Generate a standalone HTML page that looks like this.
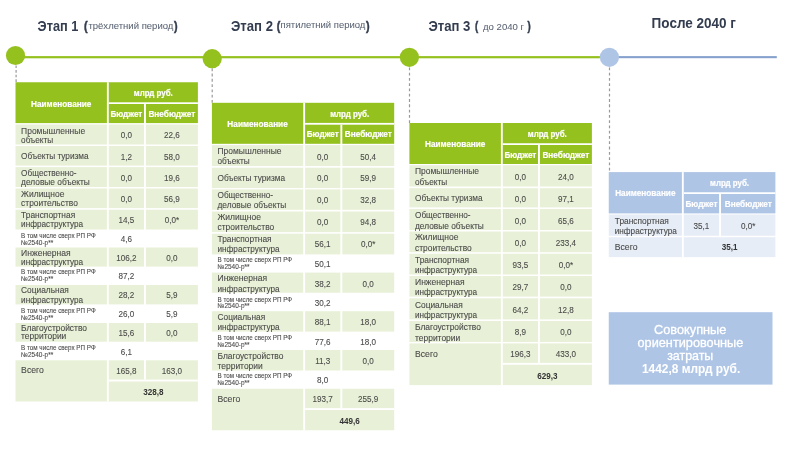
<!DOCTYPE html>
<html lang="ru">
<head>
<meta charset="utf-8">
<title>Этапы</title>
<style>
html,body{margin:0;padding:0;background:#fff;}
body{width:800px;height:452px;overflow:hidden;}
svg{display:block;font-family:'Liberation Sans', sans-serif;}
</style>
</head>
<body>
<svg width="800" height="452" viewBox="0 0 800 452">
<rect x="0" y="0" width="800" height="452" fill="#fff"/>
<rect x="15.50" y="56.10" width="593.50" height="2.20" fill="#95c11f"/>
<rect x="609.00" y="56.10" width="167.80" height="2.10" fill="#86a1cd"/>
<line x1="16.1" y1="65.4" x2="16.1" y2="82.4" stroke="#999999" stroke-width="1.2" stroke-dasharray="2.6 2.05"/>
<line x1="212.2" y1="68.3" x2="212.2" y2="102.8" stroke="#999999" stroke-width="1.2" stroke-dasharray="2.85 2.43"/>
<line x1="409.5" y1="67.4" x2="409.5" y2="123.0" stroke="#999999" stroke-width="1.2" stroke-dasharray="2.8 2.48"/>
<line x1="609.5" y1="67.4" x2="609.5" y2="172.2" stroke="#999999" stroke-width="1.2" stroke-dasharray="2.8 2.48"/>
<circle cx="15.5" cy="55.5" r="9.6" fill="#95c11f"/>
<circle cx="212.2" cy="58.7" r="9.6" fill="#95c11f"/>
<circle cx="409.4" cy="57.3" r="9.6" fill="#95c11f"/>
<circle cx="609.4" cy="57.3" r="9.6" fill="#afc5e6"/>
<text x="37.60" y="31.00" font-size="13.8" fill="#333d4f" font-weight="bold" textLength="40.80" lengthAdjust="spacingAndGlyphs">Этап 1</text>
<text x="84.00" y="30.20" font-size="13.5" fill="#333d4f" font-weight="bold" textLength="3.60" lengthAdjust="spacingAndGlyphs" stroke="#333d4f" stroke-width="0.5">(</text>
<text x="88.40" y="29.40" font-size="9.3" fill="#5a6474" textLength="85.00" lengthAdjust="spacingAndGlyphs" stroke="#5a6474" stroke-width="0.05">трёхлетний период</text>
<text x="174.00" y="30.20" font-size="13.5" fill="#333d4f" font-weight="bold" textLength="3.60" lengthAdjust="spacingAndGlyphs" stroke="#333d4f" stroke-width="0.5">)</text>
<text x="231.00" y="30.60" font-size="13.8" fill="#333d4f" font-weight="bold" textLength="42.00" lengthAdjust="spacingAndGlyphs">Этап 2</text>
<text x="276.80" y="29.80" font-size="13.5" fill="#333d4f" font-weight="bold" textLength="3.60" lengthAdjust="spacingAndGlyphs" stroke="#333d4f" stroke-width="0.5">(</text>
<text x="280.60" y="28.00" font-size="9.3" fill="#5a6474" textLength="84.80" lengthAdjust="spacingAndGlyphs" stroke="#5a6474" stroke-width="0.05">пятилетний период</text>
<text x="366.00" y="29.80" font-size="13.5" fill="#333d4f" font-weight="bold" textLength="3.60" lengthAdjust="spacingAndGlyphs" stroke="#333d4f" stroke-width="0.5">)</text>
<text x="428.40" y="30.60" font-size="13.8" fill="#333d4f" font-weight="bold" textLength="42.00" lengthAdjust="spacingAndGlyphs">Этап 3</text>
<text x="475.00" y="29.80" font-size="13.5" fill="#333d4f" font-weight="bold" textLength="3.20" lengthAdjust="spacingAndGlyphs" stroke="#333d4f" stroke-width="0.5">(</text>
<text x="483.00" y="30.00" font-size="9.0" fill="#5a6474" textLength="41.00" lengthAdjust="spacingAndGlyphs" stroke="#5a6474" stroke-width="0.05">до 2040 г</text>
<text x="527.60" y="29.80" font-size="13.5" fill="#333d4f" font-weight="bold" textLength="3.20" lengthAdjust="spacingAndGlyphs" stroke="#333d4f" stroke-width="0.5">)</text>
<text x="651.60" y="28.00" font-size="13.8" fill="#333d4f" font-weight="bold" textLength="84.40" lengthAdjust="spacingAndGlyphs">После 2040 г</text>
<rect x="15.50" y="82.25" width="182.40" height="40.85" fill="#95c11f"/>
<rect x="108.75" y="102.30" width="89.15" height="1.70" fill="#fff"/>
<text x="61.20" y="107.00" font-size="8.6" fill="#fff" font-weight="bold" text-anchor="middle" textLength="60.40" lengthAdjust="spacingAndGlyphs" stroke="#fff" stroke-width="0.2">Наименование</text>
<text x="153.32" y="96.08" font-size="8.6" fill="#fff" font-weight="bold" text-anchor="middle" textLength="39.00" lengthAdjust="spacingAndGlyphs" stroke="#fff" stroke-width="0.2">млрд руб.</text>
<text x="126.38" y="116.55" font-size="8.6" fill="#fff" font-weight="bold" text-anchor="middle" textLength="32.00" lengthAdjust="spacingAndGlyphs" stroke="#fff" stroke-width="0.2">Бюджет</text>
<text x="171.90" y="116.55" font-size="8.6" fill="#fff" font-weight="bold" text-anchor="middle" textLength="47.00" lengthAdjust="spacingAndGlyphs" stroke="#fff" stroke-width="0.2">Внебюджет</text>
<rect x="15.50" y="124.50" width="182.40" height="20.00" fill="#e8f1d7"/>
<text x="21.10" y="134.10" font-size="8.9" fill="#4b4b4a" textLength="64.00" lengthAdjust="spacingAndGlyphs" stroke="#4b4b4a" stroke-width="0.1">Промышленные</text>
<text x="21.10" y="142.60" font-size="8.9" fill="#4b4b4a" textLength="32.10" lengthAdjust="spacingAndGlyphs" stroke="#4b4b4a" stroke-width="0.1">объекты</text>
<text x="126.38" y="137.90" font-size="8.8" fill="#4b4b4a" text-anchor="middle" textLength="11.26" lengthAdjust="spacingAndGlyphs" stroke="#4b4b4a" stroke-width="0.1">0,0</text>
<text x="171.90" y="137.90" font-size="8.8" fill="#4b4b4a" text-anchor="middle" textLength="15.76" lengthAdjust="spacingAndGlyphs" stroke="#4b4b4a" stroke-width="0.1">22,6</text>
<rect x="15.50" y="146.00" width="182.40" height="19.60" fill="#e8f1d7"/>
<text x="21.10" y="159.10" font-size="8.9" fill="#4b4b4a" textLength="67.50" lengthAdjust="spacingAndGlyphs" stroke="#4b4b4a" stroke-width="0.1">Объекты туризма</text>
<text x="126.38" y="159.50" font-size="8.8" fill="#4b4b4a" text-anchor="middle" textLength="11.26" lengthAdjust="spacingAndGlyphs" stroke="#4b4b4a" stroke-width="0.1">1,2</text>
<text x="171.90" y="159.50" font-size="8.8" fill="#4b4b4a" text-anchor="middle" textLength="15.76" lengthAdjust="spacingAndGlyphs" stroke="#4b4b4a" stroke-width="0.1">58,0</text>
<rect x="15.50" y="167.10" width="182.40" height="19.90" fill="#e8f1d7"/>
<text x="21.10" y="175.60" font-size="8.9" fill="#4b4b4a" textLength="55.50" lengthAdjust="spacingAndGlyphs" stroke="#4b4b4a" stroke-width="0.1">Общественно-</text>
<text x="21.10" y="185.00" font-size="8.9" fill="#4b4b4a" textLength="68.75" lengthAdjust="spacingAndGlyphs" stroke="#4b4b4a" stroke-width="0.1">деловые объекты</text>
<text x="126.38" y="180.60" font-size="8.8" fill="#4b4b4a" text-anchor="middle" textLength="11.26" lengthAdjust="spacingAndGlyphs" stroke="#4b4b4a" stroke-width="0.1">0,0</text>
<text x="171.90" y="180.60" font-size="8.8" fill="#4b4b4a" text-anchor="middle" textLength="15.76" lengthAdjust="spacingAndGlyphs" stroke="#4b4b4a" stroke-width="0.1">19,6</text>
<rect x="15.50" y="188.50" width="182.40" height="19.60" fill="#e8f1d7"/>
<text x="21.10" y="197.25" font-size="8.9" fill="#4b4b4a" textLength="43.40" lengthAdjust="spacingAndGlyphs" stroke="#4b4b4a" stroke-width="0.1">Жилищное</text>
<text x="21.10" y="205.60" font-size="8.9" fill="#4b4b4a" textLength="56.75" lengthAdjust="spacingAndGlyphs" stroke="#4b4b4a" stroke-width="0.1">строительство</text>
<text x="126.38" y="201.50" font-size="8.8" fill="#4b4b4a" text-anchor="middle" textLength="11.26" lengthAdjust="spacingAndGlyphs" stroke="#4b4b4a" stroke-width="0.1">0,0</text>
<text x="171.90" y="201.50" font-size="8.8" fill="#4b4b4a" text-anchor="middle" textLength="15.76" lengthAdjust="spacingAndGlyphs" stroke="#4b4b4a" stroke-width="0.1">56,9</text>
<rect x="15.50" y="209.70" width="182.40" height="19.80" fill="#e8f1d7"/>
<text x="21.10" y="218.40" font-size="8.9" fill="#4b4b4a" textLength="54.10" lengthAdjust="spacingAndGlyphs" stroke="#4b4b4a" stroke-width="0.1">Транспортная</text>
<text x="21.10" y="227.10" font-size="8.9" fill="#4b4b4a" textLength="62.10" lengthAdjust="spacingAndGlyphs" stroke="#4b4b4a" stroke-width="0.1">инфраструктура</text>
<text x="126.38" y="223.00" font-size="8.8" fill="#4b4b4a" text-anchor="middle" textLength="15.76" lengthAdjust="spacingAndGlyphs" stroke="#4b4b4a" stroke-width="0.1">14,5</text>
<text x="171.90" y="223.00" font-size="8.8" fill="#4b4b4a" text-anchor="middle" textLength="14.41" lengthAdjust="spacingAndGlyphs" stroke="#4b4b4a" stroke-width="0.1">0,0*</text>
<text x="21.10" y="237.75" font-size="6.9" fill="#4b4b4a" textLength="74.60" lengthAdjust="spacingAndGlyphs" stroke="#4b4b4a" stroke-width="0.1">В том числе сверх РП РФ</text>
<text x="21.10" y="244.60" font-size="6.9" fill="#4b4b4a" textLength="32.10" lengthAdjust="spacingAndGlyphs" stroke="#4b4b4a" stroke-width="0.1">№2540-р**</text>
<text x="126.38" y="241.75" font-size="8.8" fill="#4b4b4a" text-anchor="middle" textLength="11.26" lengthAdjust="spacingAndGlyphs" stroke="#4b4b4a" stroke-width="0.1">4,6</text>
<rect x="15.50" y="247.50" width="182.40" height="19.10" fill="#e8f1d7"/>
<text x="21.10" y="255.90" font-size="8.9" fill="#4b4b4a" textLength="49.60" lengthAdjust="spacingAndGlyphs" stroke="#4b4b4a" stroke-width="0.1">Инженерная</text>
<text x="21.10" y="264.60" font-size="8.9" fill="#4b4b4a" textLength="62.10" lengthAdjust="spacingAndGlyphs" stroke="#4b4b4a" stroke-width="0.1">инфраструктура</text>
<text x="126.38" y="260.75" font-size="8.8" fill="#4b4b4a" text-anchor="middle" textLength="20.27" lengthAdjust="spacingAndGlyphs" stroke="#4b4b4a" stroke-width="0.1">106,2</text>
<text x="171.90" y="260.75" font-size="8.8" fill="#4b4b4a" text-anchor="middle" textLength="11.26" lengthAdjust="spacingAndGlyphs" stroke="#4b4b4a" stroke-width="0.1">0,0</text>
<text x="21.10" y="274.40" font-size="6.9" fill="#4b4b4a" textLength="74.60" lengthAdjust="spacingAndGlyphs" stroke="#4b4b4a" stroke-width="0.1">В том числе сверх РП РФ</text>
<text x="21.10" y="281.25" font-size="6.9" fill="#4b4b4a" textLength="32.10" lengthAdjust="spacingAndGlyphs" stroke="#4b4b4a" stroke-width="0.1">№2540-р**</text>
<text x="126.38" y="279.30" font-size="8.8" fill="#4b4b4a" text-anchor="middle" textLength="15.76" lengthAdjust="spacingAndGlyphs" stroke="#4b4b4a" stroke-width="0.1">87,2</text>
<rect x="15.50" y="285.00" width="182.40" height="19.40" fill="#e8f1d7"/>
<text x="21.10" y="293.40" font-size="8.9" fill="#4b4b4a" textLength="47.75" lengthAdjust="spacingAndGlyphs" stroke="#4b4b4a" stroke-width="0.1">Социальная</text>
<text x="21.10" y="302.50" font-size="8.9" fill="#4b4b4a" textLength="62.10" lengthAdjust="spacingAndGlyphs" stroke="#4b4b4a" stroke-width="0.1">инфраструктура</text>
<text x="126.38" y="298.10" font-size="8.8" fill="#4b4b4a" text-anchor="middle" textLength="15.76" lengthAdjust="spacingAndGlyphs" stroke="#4b4b4a" stroke-width="0.1">28,2</text>
<text x="171.90" y="298.10" font-size="8.8" fill="#4b4b4a" text-anchor="middle" textLength="11.26" lengthAdjust="spacingAndGlyphs" stroke="#4b4b4a" stroke-width="0.1">5,9</text>
<text x="21.10" y="312.90" font-size="6.9" fill="#4b4b4a" textLength="74.60" lengthAdjust="spacingAndGlyphs" stroke="#4b4b4a" stroke-width="0.1">В том числе сверх РП РФ</text>
<text x="21.10" y="319.75" font-size="6.9" fill="#4b4b4a" textLength="32.10" lengthAdjust="spacingAndGlyphs" stroke="#4b4b4a" stroke-width="0.1">№2540-р**</text>
<text x="126.38" y="316.90" font-size="8.8" fill="#4b4b4a" text-anchor="middle" textLength="15.76" lengthAdjust="spacingAndGlyphs" stroke="#4b4b4a" stroke-width="0.1">26,0</text>
<text x="171.90" y="316.90" font-size="8.8" fill="#4b4b4a" text-anchor="middle" textLength="11.26" lengthAdjust="spacingAndGlyphs" stroke="#4b4b4a" stroke-width="0.1">5,9</text>
<rect x="15.50" y="323.00" width="182.40" height="18.70" fill="#e8f1d7"/>
<text x="21.10" y="331.25" font-size="8.9" fill="#4b4b4a" textLength="65.90" lengthAdjust="spacingAndGlyphs" stroke="#4b4b4a" stroke-width="0.1">Благоустройство</text>
<text x="21.10" y="339.40" font-size="8.9" fill="#4b4b4a" textLength="45.25" lengthAdjust="spacingAndGlyphs" stroke="#4b4b4a" stroke-width="0.1">территории</text>
<text x="126.38" y="335.90" font-size="8.8" fill="#4b4b4a" text-anchor="middle" textLength="15.76" lengthAdjust="spacingAndGlyphs" stroke="#4b4b4a" stroke-width="0.1">15,6</text>
<text x="171.90" y="335.90" font-size="8.8" fill="#4b4b4a" text-anchor="middle" textLength="11.26" lengthAdjust="spacingAndGlyphs" stroke="#4b4b4a" stroke-width="0.1">0,0</text>
<text x="21.10" y="350.00" font-size="6.9" fill="#4b4b4a" textLength="74.60" lengthAdjust="spacingAndGlyphs" stroke="#4b4b4a" stroke-width="0.1">В том числе сверх РП РФ</text>
<text x="21.10" y="357.00" font-size="6.9" fill="#4b4b4a" textLength="32.10" lengthAdjust="spacingAndGlyphs" stroke="#4b4b4a" stroke-width="0.1">№2540-р**</text>
<text x="126.38" y="354.60" font-size="8.8" fill="#4b4b4a" text-anchor="middle" textLength="11.26" lengthAdjust="spacingAndGlyphs" stroke="#4b4b4a" stroke-width="0.1">6,1</text>
<rect x="15.50" y="360.30" width="182.40" height="41.20" fill="#e8f1d7"/>
<text x="21.10" y="373.25" font-size="8.9" fill="#4b4b4a" textLength="22.75" lengthAdjust="spacingAndGlyphs" stroke="#4b4b4a" stroke-width="0.1">Всего</text>
<rect x="108.75" y="379.60" width="89.15" height="1.90" fill="#fff"/>
<text x="126.38" y="373.50" font-size="8.8" fill="#4b4b4a" text-anchor="middle" textLength="20.27" lengthAdjust="spacingAndGlyphs" stroke="#4b4b4a" stroke-width="0.1">165,8</text>
<text x="171.90" y="373.50" font-size="8.8" fill="#4b4b4a" text-anchor="middle" textLength="20.27" lengthAdjust="spacingAndGlyphs" stroke="#4b4b4a" stroke-width="0.1">163,0</text>
<text x="153.32" y="394.80" font-size="8.8" fill="#333333" font-weight="bold" text-anchor="middle" textLength="20.27" lengthAdjust="spacingAndGlyphs">328,8</text>
<rect x="106.90" y="82.25" width="1.85" height="319.25" fill="#fff"/>
<rect x="144.00" y="104.00" width="1.90" height="275.60" fill="#fff"/>
<rect x="211.90" y="102.80" width="182.30" height="41.00" fill="#95c11f"/>
<rect x="305.10" y="122.90" width="89.10" height="1.80" fill="#fff"/>
<text x="257.57" y="127.00" font-size="8.6" fill="#fff" font-weight="bold" text-anchor="middle" textLength="60.40" lengthAdjust="spacingAndGlyphs" stroke="#fff" stroke-width="0.2">Наименование</text>
<text x="349.65" y="116.65" font-size="8.6" fill="#fff" font-weight="bold" text-anchor="middle" textLength="39.00" lengthAdjust="spacingAndGlyphs" stroke="#fff" stroke-width="0.2">млрд руб.</text>
<text x="322.75" y="137.25" font-size="8.6" fill="#fff" font-weight="bold" text-anchor="middle" textLength="32.00" lengthAdjust="spacingAndGlyphs" stroke="#fff" stroke-width="0.2">Бюджет</text>
<text x="368.25" y="137.25" font-size="8.6" fill="#fff" font-weight="bold" text-anchor="middle" textLength="47.00" lengthAdjust="spacingAndGlyphs" stroke="#fff" stroke-width="0.2">Внебюджет</text>
<rect x="211.90" y="145.10" width="182.30" height="20.90" fill="#e8f1d7"/>
<text x="217.50" y="153.75" font-size="8.9" fill="#4b4b4a" textLength="64.00" lengthAdjust="spacingAndGlyphs" stroke="#4b4b4a" stroke-width="0.1">Промышленные</text>
<text x="217.50" y="164.40" font-size="8.9" fill="#4b4b4a" textLength="32.10" lengthAdjust="spacingAndGlyphs" stroke="#4b4b4a" stroke-width="0.1">объекты</text>
<text x="322.75" y="159.75" font-size="8.8" fill="#4b4b4a" text-anchor="middle" textLength="11.26" lengthAdjust="spacingAndGlyphs" stroke="#4b4b4a" stroke-width="0.1">0,0</text>
<text x="368.25" y="159.75" font-size="8.8" fill="#4b4b4a" text-anchor="middle" textLength="15.76" lengthAdjust="spacingAndGlyphs" stroke="#4b4b4a" stroke-width="0.1">50,4</text>
<rect x="211.90" y="167.70" width="182.30" height="20.40" fill="#e8f1d7"/>
<text x="217.50" y="181.00" font-size="8.9" fill="#4b4b4a" textLength="67.50" lengthAdjust="spacingAndGlyphs" stroke="#4b4b4a" stroke-width="0.1">Объекты туризма</text>
<text x="322.75" y="181.25" font-size="8.8" fill="#4b4b4a" text-anchor="middle" textLength="11.26" lengthAdjust="spacingAndGlyphs" stroke="#4b4b4a" stroke-width="0.1">0,0</text>
<text x="368.25" y="181.25" font-size="8.8" fill="#4b4b4a" text-anchor="middle" textLength="15.76" lengthAdjust="spacingAndGlyphs" stroke="#4b4b4a" stroke-width="0.1">59,9</text>
<rect x="211.90" y="189.40" width="182.30" height="20.40" fill="#e8f1d7"/>
<text x="217.50" y="197.75" font-size="8.9" fill="#4b4b4a" textLength="55.50" lengthAdjust="spacingAndGlyphs" stroke="#4b4b4a" stroke-width="0.1">Общественно-</text>
<text x="217.50" y="208.00" font-size="8.9" fill="#4b4b4a" textLength="68.75" lengthAdjust="spacingAndGlyphs" stroke="#4b4b4a" stroke-width="0.1">деловые объекты</text>
<text x="322.75" y="202.75" font-size="8.8" fill="#4b4b4a" text-anchor="middle" textLength="11.26" lengthAdjust="spacingAndGlyphs" stroke="#4b4b4a" stroke-width="0.1">0,0</text>
<text x="368.25" y="202.75" font-size="8.8" fill="#4b4b4a" text-anchor="middle" textLength="15.76" lengthAdjust="spacingAndGlyphs" stroke="#4b4b4a" stroke-width="0.1">32,8</text>
<rect x="211.90" y="211.50" width="182.30" height="20.60" fill="#e8f1d7"/>
<text x="217.50" y="220.25" font-size="8.9" fill="#4b4b4a" textLength="43.40" lengthAdjust="spacingAndGlyphs" stroke="#4b4b4a" stroke-width="0.1">Жилищное</text>
<text x="217.50" y="230.25" font-size="8.9" fill="#4b4b4a" textLength="56.75" lengthAdjust="spacingAndGlyphs" stroke="#4b4b4a" stroke-width="0.1">строительство</text>
<text x="322.75" y="225.25" font-size="8.8" fill="#4b4b4a" text-anchor="middle" textLength="11.26" lengthAdjust="spacingAndGlyphs" stroke="#4b4b4a" stroke-width="0.1">0,0</text>
<text x="368.25" y="225.25" font-size="8.8" fill="#4b4b4a" text-anchor="middle" textLength="15.76" lengthAdjust="spacingAndGlyphs" stroke="#4b4b4a" stroke-width="0.1">94,8</text>
<rect x="211.90" y="233.70" width="182.30" height="20.70" fill="#e8f1d7"/>
<text x="217.50" y="242.40" font-size="8.9" fill="#4b4b4a" textLength="54.10" lengthAdjust="spacingAndGlyphs" stroke="#4b4b4a" stroke-width="0.1">Транспортная</text>
<text x="217.50" y="252.00" font-size="8.9" fill="#4b4b4a" textLength="62.10" lengthAdjust="spacingAndGlyphs" stroke="#4b4b4a" stroke-width="0.1">инфраструктура</text>
<text x="322.75" y="247.40" font-size="8.8" fill="#4b4b4a" text-anchor="middle" textLength="15.76" lengthAdjust="spacingAndGlyphs" stroke="#4b4b4a" stroke-width="0.1">56,1</text>
<text x="368.25" y="247.40" font-size="8.8" fill="#4b4b4a" text-anchor="middle" textLength="14.41" lengthAdjust="spacingAndGlyphs" stroke="#4b4b4a" stroke-width="0.1">0,0*</text>
<text x="217.50" y="262.00" font-size="6.9" fill="#4b4b4a" textLength="74.60" lengthAdjust="spacingAndGlyphs" stroke="#4b4b4a" stroke-width="0.1">В том числе сверх РП РФ</text>
<text x="217.50" y="268.80" font-size="6.9" fill="#4b4b4a" textLength="32.10" lengthAdjust="spacingAndGlyphs" stroke="#4b4b4a" stroke-width="0.1">№2540-р**</text>
<text x="322.75" y="267.00" font-size="8.8" fill="#4b4b4a" text-anchor="middle" textLength="15.76" lengthAdjust="spacingAndGlyphs" stroke="#4b4b4a" stroke-width="0.1">50,1</text>
<rect x="211.90" y="272.60" width="182.30" height="20.15" fill="#e8f1d7"/>
<text x="217.50" y="280.70" font-size="8.9" fill="#4b4b4a" textLength="49.60" lengthAdjust="spacingAndGlyphs" stroke="#4b4b4a" stroke-width="0.1">Инженерная</text>
<text x="217.50" y="291.60" font-size="8.9" fill="#4b4b4a" textLength="62.10" lengthAdjust="spacingAndGlyphs" stroke="#4b4b4a" stroke-width="0.1">инфраструктура</text>
<text x="322.75" y="286.75" font-size="8.8" fill="#4b4b4a" text-anchor="middle" textLength="15.76" lengthAdjust="spacingAndGlyphs" stroke="#4b4b4a" stroke-width="0.1">38,2</text>
<text x="368.25" y="286.75" font-size="8.8" fill="#4b4b4a" text-anchor="middle" textLength="11.26" lengthAdjust="spacingAndGlyphs" stroke="#4b4b4a" stroke-width="0.1">0,0</text>
<text x="217.50" y="301.70" font-size="6.9" fill="#4b4b4a" textLength="74.60" lengthAdjust="spacingAndGlyphs" stroke="#4b4b4a" stroke-width="0.1">В том числе сверх РП РФ</text>
<text x="217.50" y="308.30" font-size="6.9" fill="#4b4b4a" textLength="32.10" lengthAdjust="spacingAndGlyphs" stroke="#4b4b4a" stroke-width="0.1">№2540-р**</text>
<text x="322.75" y="305.75" font-size="8.8" fill="#4b4b4a" text-anchor="middle" textLength="15.76" lengthAdjust="spacingAndGlyphs" stroke="#4b4b4a" stroke-width="0.1">30,2</text>
<rect x="211.90" y="311.20" width="182.30" height="20.40" fill="#e8f1d7"/>
<text x="217.50" y="320.00" font-size="8.9" fill="#4b4b4a" textLength="47.75" lengthAdjust="spacingAndGlyphs" stroke="#4b4b4a" stroke-width="0.1">Социальная</text>
<text x="217.50" y="330.00" font-size="8.9" fill="#4b4b4a" textLength="62.10" lengthAdjust="spacingAndGlyphs" stroke="#4b4b4a" stroke-width="0.1">инфраструктура</text>
<text x="322.75" y="325.40" font-size="8.8" fill="#4b4b4a" text-anchor="middle" textLength="15.76" lengthAdjust="spacingAndGlyphs" stroke="#4b4b4a" stroke-width="0.1">88,1</text>
<text x="368.25" y="325.40" font-size="8.8" fill="#4b4b4a" text-anchor="middle" textLength="15.76" lengthAdjust="spacingAndGlyphs" stroke="#4b4b4a" stroke-width="0.1">18,0</text>
<text x="217.50" y="340.00" font-size="6.9" fill="#4b4b4a" textLength="74.60" lengthAdjust="spacingAndGlyphs" stroke="#4b4b4a" stroke-width="0.1">В том числе сверх РП РФ</text>
<text x="217.50" y="346.60" font-size="6.9" fill="#4b4b4a" textLength="32.10" lengthAdjust="spacingAndGlyphs" stroke="#4b4b4a" stroke-width="0.1">№2540-р**</text>
<text x="322.75" y="344.50" font-size="8.8" fill="#4b4b4a" text-anchor="middle" textLength="15.76" lengthAdjust="spacingAndGlyphs" stroke="#4b4b4a" stroke-width="0.1">77,6</text>
<text x="368.25" y="344.50" font-size="8.8" fill="#4b4b4a" text-anchor="middle" textLength="15.76" lengthAdjust="spacingAndGlyphs" stroke="#4b4b4a" stroke-width="0.1">18,0</text>
<rect x="211.90" y="350.00" width="182.30" height="20.50" fill="#e8f1d7"/>
<text x="217.50" y="358.70" font-size="8.9" fill="#4b4b4a" textLength="65.90" lengthAdjust="spacingAndGlyphs" stroke="#4b4b4a" stroke-width="0.1">Благоустройство</text>
<text x="217.50" y="368.70" font-size="8.9" fill="#4b4b4a" textLength="45.25" lengthAdjust="spacingAndGlyphs" stroke="#4b4b4a" stroke-width="0.1">территории</text>
<text x="322.75" y="363.75" font-size="8.8" fill="#4b4b4a" text-anchor="middle" textLength="15.16" lengthAdjust="spacingAndGlyphs" stroke="#4b4b4a" stroke-width="0.1">11,3</text>
<text x="368.25" y="363.75" font-size="8.8" fill="#4b4b4a" text-anchor="middle" textLength="11.26" lengthAdjust="spacingAndGlyphs" stroke="#4b4b4a" stroke-width="0.1">0,0</text>
<text x="217.50" y="378.40" font-size="6.9" fill="#4b4b4a" textLength="74.60" lengthAdjust="spacingAndGlyphs" stroke="#4b4b4a" stroke-width="0.1">В том числе сверх РП РФ</text>
<text x="217.50" y="385.00" font-size="6.9" fill="#4b4b4a" textLength="32.10" lengthAdjust="spacingAndGlyphs" stroke="#4b4b4a" stroke-width="0.1">№2540-р**</text>
<text x="322.75" y="383.00" font-size="8.8" fill="#4b4b4a" text-anchor="middle" textLength="11.26" lengthAdjust="spacingAndGlyphs" stroke="#4b4b4a" stroke-width="0.1">8,0</text>
<rect x="211.90" y="388.75" width="182.30" height="41.50" fill="#e8f1d7"/>
<text x="217.50" y="401.70" font-size="8.9" fill="#4b4b4a" textLength="22.75" lengthAdjust="spacingAndGlyphs" stroke="#4b4b4a" stroke-width="0.1">Всего</text>
<rect x="305.10" y="408.10" width="89.10" height="1.90" fill="#fff"/>
<text x="322.75" y="401.90" font-size="8.8" fill="#4b4b4a" text-anchor="middle" textLength="20.27" lengthAdjust="spacingAndGlyphs" stroke="#4b4b4a" stroke-width="0.1">193,7</text>
<text x="368.25" y="401.90" font-size="8.8" fill="#4b4b4a" text-anchor="middle" textLength="20.27" lengthAdjust="spacingAndGlyphs" stroke="#4b4b4a" stroke-width="0.1">255,9</text>
<text x="349.65" y="423.50" font-size="8.8" fill="#333333" font-weight="bold" text-anchor="middle" textLength="20.27" lengthAdjust="spacingAndGlyphs">449,6</text>
<rect x="303.25" y="102.80" width="1.85" height="327.45" fill="#fff"/>
<rect x="340.40" y="124.70" width="1.90" height="283.40" fill="#fff"/>
<rect x="409.40" y="123.00" width="182.50" height="41.00" fill="#95c11f"/>
<rect x="502.75" y="143.25" width="89.15" height="1.75" fill="#fff"/>
<text x="455.15" y="147.20" font-size="8.6" fill="#fff" font-weight="bold" text-anchor="middle" textLength="60.40" lengthAdjust="spacingAndGlyphs" stroke="#fff" stroke-width="0.2">Наименование</text>
<text x="547.33" y="136.93" font-size="8.6" fill="#fff" font-weight="bold" text-anchor="middle" textLength="39.00" lengthAdjust="spacingAndGlyphs" stroke="#fff" stroke-width="0.2">млрд руб.</text>
<text x="520.38" y="157.50" font-size="8.6" fill="#fff" font-weight="bold" text-anchor="middle" textLength="32.00" lengthAdjust="spacingAndGlyphs" stroke="#fff" stroke-width="0.2">Бюджет</text>
<text x="565.90" y="157.50" font-size="8.6" fill="#fff" font-weight="bold" text-anchor="middle" textLength="47.00" lengthAdjust="spacingAndGlyphs" stroke="#fff" stroke-width="0.2">Внебюджет</text>
<rect x="409.40" y="165.20" width="182.50" height="21.30" fill="#e8f1d7"/>
<text x="415.00" y="174.25" font-size="8.9" fill="#4b4b4a" textLength="64.00" lengthAdjust="spacingAndGlyphs" stroke="#4b4b4a" stroke-width="0.1">Промышленные</text>
<text x="415.00" y="184.90" font-size="8.9" fill="#4b4b4a" textLength="32.10" lengthAdjust="spacingAndGlyphs" stroke="#4b4b4a" stroke-width="0.1">объекты</text>
<text x="520.38" y="180.25" font-size="8.8" fill="#4b4b4a" text-anchor="middle" textLength="11.26" lengthAdjust="spacingAndGlyphs" stroke="#4b4b4a" stroke-width="0.1">0,0</text>
<text x="565.90" y="180.25" font-size="8.8" fill="#4b4b4a" text-anchor="middle" textLength="15.76" lengthAdjust="spacingAndGlyphs" stroke="#4b4b4a" stroke-width="0.1">24,0</text>
<rect x="409.40" y="188.20" width="182.50" height="19.20" fill="#e8f1d7"/>
<text x="415.00" y="201.10" font-size="8.9" fill="#4b4b4a" textLength="67.50" lengthAdjust="spacingAndGlyphs" stroke="#4b4b4a" stroke-width="0.1">Объекты туризма</text>
<text x="520.38" y="201.50" font-size="8.8" fill="#4b4b4a" text-anchor="middle" textLength="11.26" lengthAdjust="spacingAndGlyphs" stroke="#4b4b4a" stroke-width="0.1">0,0</text>
<text x="565.90" y="201.50" font-size="8.8" fill="#4b4b4a" text-anchor="middle" textLength="15.76" lengthAdjust="spacingAndGlyphs" stroke="#4b4b4a" stroke-width="0.1">97,1</text>
<rect x="409.40" y="209.00" width="182.50" height="21.00" fill="#e8f1d7"/>
<text x="415.00" y="218.10" font-size="8.9" fill="#4b4b4a" textLength="55.50" lengthAdjust="spacingAndGlyphs" stroke="#4b4b4a" stroke-width="0.1">Общественно-</text>
<text x="415.00" y="228.50" font-size="8.9" fill="#4b4b4a" textLength="68.75" lengthAdjust="spacingAndGlyphs" stroke="#4b4b4a" stroke-width="0.1">деловые объекты</text>
<text x="520.38" y="223.50" font-size="8.8" fill="#4b4b4a" text-anchor="middle" textLength="11.26" lengthAdjust="spacingAndGlyphs" stroke="#4b4b4a" stroke-width="0.1">0,0</text>
<text x="565.90" y="223.50" font-size="8.8" fill="#4b4b4a" text-anchor="middle" textLength="15.76" lengthAdjust="spacingAndGlyphs" stroke="#4b4b4a" stroke-width="0.1">65,6</text>
<rect x="409.40" y="231.50" width="182.50" height="20.70" fill="#e8f1d7"/>
<text x="415.00" y="240.00" font-size="8.9" fill="#4b4b4a" textLength="43.40" lengthAdjust="spacingAndGlyphs" stroke="#4b4b4a" stroke-width="0.1">Жилищное</text>
<text x="415.00" y="250.60" font-size="8.9" fill="#4b4b4a" textLength="56.75" lengthAdjust="spacingAndGlyphs" stroke="#4b4b4a" stroke-width="0.1">строительство</text>
<text x="520.38" y="245.60" font-size="8.8" fill="#4b4b4a" text-anchor="middle" textLength="11.26" lengthAdjust="spacingAndGlyphs" stroke="#4b4b4a" stroke-width="0.1">0,0</text>
<text x="565.90" y="245.60" font-size="8.8" fill="#4b4b4a" text-anchor="middle" textLength="20.27" lengthAdjust="spacingAndGlyphs" stroke="#4b4b4a" stroke-width="0.1">233,4</text>
<rect x="409.40" y="253.75" width="182.50" height="20.75" fill="#e8f1d7"/>
<text x="415.00" y="262.90" font-size="8.9" fill="#4b4b4a" textLength="54.10" lengthAdjust="spacingAndGlyphs" stroke="#4b4b4a" stroke-width="0.1">Транспортная</text>
<text x="415.00" y="272.90" font-size="8.9" fill="#4b4b4a" textLength="62.10" lengthAdjust="spacingAndGlyphs" stroke="#4b4b4a" stroke-width="0.1">инфраструктура</text>
<text x="520.38" y="268.25" font-size="8.8" fill="#4b4b4a" text-anchor="middle" textLength="15.76" lengthAdjust="spacingAndGlyphs" stroke="#4b4b4a" stroke-width="0.1">93,5</text>
<text x="565.90" y="268.25" font-size="8.8" fill="#4b4b4a" text-anchor="middle" textLength="14.41" lengthAdjust="spacingAndGlyphs" stroke="#4b4b4a" stroke-width="0.1">0,0*</text>
<rect x="409.40" y="276.00" width="182.50" height="20.60" fill="#e8f1d7"/>
<text x="415.00" y="284.75" font-size="8.9" fill="#4b4b4a" textLength="49.60" lengthAdjust="spacingAndGlyphs" stroke="#4b4b4a" stroke-width="0.1">Инженерная</text>
<text x="415.00" y="295.10" font-size="8.9" fill="#4b4b4a" textLength="62.10" lengthAdjust="spacingAndGlyphs" stroke="#4b4b4a" stroke-width="0.1">инфраструктура</text>
<text x="520.38" y="290.00" font-size="8.8" fill="#4b4b4a" text-anchor="middle" textLength="15.76" lengthAdjust="spacingAndGlyphs" stroke="#4b4b4a" stroke-width="0.1">29,7</text>
<text x="565.90" y="290.00" font-size="8.8" fill="#4b4b4a" text-anchor="middle" textLength="11.26" lengthAdjust="spacingAndGlyphs" stroke="#4b4b4a" stroke-width="0.1">0,0</text>
<rect x="409.40" y="298.30" width="182.50" height="21.10" fill="#e8f1d7"/>
<text x="415.00" y="307.60" font-size="8.9" fill="#4b4b4a" textLength="47.75" lengthAdjust="spacingAndGlyphs" stroke="#4b4b4a" stroke-width="0.1">Социальная</text>
<text x="415.00" y="317.60" font-size="8.9" fill="#4b4b4a" textLength="62.10" lengthAdjust="spacingAndGlyphs" stroke="#4b4b4a" stroke-width="0.1">инфраструктура</text>
<text x="520.38" y="312.90" font-size="8.8" fill="#4b4b4a" text-anchor="middle" textLength="15.76" lengthAdjust="spacingAndGlyphs" stroke="#4b4b4a" stroke-width="0.1">64,2</text>
<text x="565.90" y="312.90" font-size="8.8" fill="#4b4b4a" text-anchor="middle" textLength="15.76" lengthAdjust="spacingAndGlyphs" stroke="#4b4b4a" stroke-width="0.1">12,8</text>
<rect x="409.40" y="321.00" width="182.50" height="21.00" fill="#e8f1d7"/>
<text x="415.00" y="329.75" font-size="8.9" fill="#4b4b4a" textLength="65.90" lengthAdjust="spacingAndGlyphs" stroke="#4b4b4a" stroke-width="0.1">Благоустройство</text>
<text x="415.00" y="340.50" font-size="8.9" fill="#4b4b4a" textLength="45.25" lengthAdjust="spacingAndGlyphs" stroke="#4b4b4a" stroke-width="0.1">территории</text>
<text x="520.38" y="334.75" font-size="8.8" fill="#4b4b4a" text-anchor="middle" textLength="11.26" lengthAdjust="spacingAndGlyphs" stroke="#4b4b4a" stroke-width="0.1">8,9</text>
<text x="565.90" y="334.75" font-size="8.8" fill="#4b4b4a" text-anchor="middle" textLength="11.26" lengthAdjust="spacingAndGlyphs" stroke="#4b4b4a" stroke-width="0.1">0,0</text>
<rect x="409.40" y="343.40" width="182.50" height="41.70" fill="#e8f1d7"/>
<text x="415.00" y="357.00" font-size="8.9" fill="#4b4b4a" textLength="22.75" lengthAdjust="spacingAndGlyphs" stroke="#4b4b4a" stroke-width="0.1">Всего</text>
<rect x="502.75" y="362.90" width="89.15" height="1.85" fill="#fff"/>
<text x="520.38" y="357.00" font-size="8.8" fill="#4b4b4a" text-anchor="middle" textLength="20.27" lengthAdjust="spacingAndGlyphs" stroke="#4b4b4a" stroke-width="0.1">196,3</text>
<text x="565.90" y="357.00" font-size="8.8" fill="#4b4b4a" text-anchor="middle" textLength="20.27" lengthAdjust="spacingAndGlyphs" stroke="#4b4b4a" stroke-width="0.1">433,0</text>
<text x="547.33" y="378.75" font-size="8.8" fill="#333333" font-weight="bold" text-anchor="middle" textLength="20.27" lengthAdjust="spacingAndGlyphs">629,3</text>
<rect x="500.90" y="123.00" width="1.85" height="262.10" fill="#fff"/>
<rect x="538.00" y="145.00" width="1.90" height="217.90" fill="#fff"/>
<rect x="608.75" y="172.10" width="166.65" height="41.30" fill="#afc5e6"/>
<rect x="683.75" y="192.25" width="91.65" height="1.75" fill="#fff"/>
<text x="645.33" y="196.45" font-size="8.6" fill="#fff" font-weight="bold" text-anchor="middle" textLength="60.40" lengthAdjust="spacingAndGlyphs" stroke="#fff" stroke-width="0.2">Наименование</text>
<text x="729.58" y="185.98" font-size="8.6" fill="#fff" font-weight="bold" text-anchor="middle" textLength="39.00" lengthAdjust="spacingAndGlyphs" stroke="#fff" stroke-width="0.2">млрд руб.</text>
<text x="701.42" y="206.70" font-size="8.6" fill="#fff" font-weight="bold" text-anchor="middle" textLength="32.00" lengthAdjust="spacingAndGlyphs" stroke="#fff" stroke-width="0.2">Бюджет</text>
<text x="748.20" y="206.70" font-size="8.6" fill="#fff" font-weight="bold" text-anchor="middle" textLength="47.00" lengthAdjust="spacingAndGlyphs" stroke="#fff" stroke-width="0.2">Внебюджет</text>
<rect x="608.75" y="214.50" width="166.65" height="21.25" fill="#e6edf7"/>
<text x="614.75" y="223.50" font-size="8.9" fill="#4b4b4a" textLength="54.10" lengthAdjust="spacingAndGlyphs" stroke="#4b4b4a" stroke-width="0.1">Транспортная</text>
<text x="614.75" y="233.75" font-size="8.9" fill="#4b4b4a" textLength="62.10" lengthAdjust="spacingAndGlyphs" stroke="#4b4b4a" stroke-width="0.1">инфраструктура</text>
<text x="701.42" y="228.75" font-size="8.8" fill="#4b4b4a" text-anchor="middle" textLength="15.76" lengthAdjust="spacingAndGlyphs" stroke="#4b4b4a" stroke-width="0.1">35,1</text>
<text x="748.20" y="228.75" font-size="8.8" fill="#4b4b4a" text-anchor="middle" textLength="14.41" lengthAdjust="spacingAndGlyphs" stroke="#4b4b4a" stroke-width="0.1">0,0*</text>
<rect x="608.75" y="237.25" width="166.65" height="19.85" fill="#e6edf7"/>
<text x="614.75" y="250.00" font-size="8.9" fill="#4b4b4a" textLength="22.75" lengthAdjust="spacingAndGlyphs" stroke="#4b4b4a" stroke-width="0.1">Всего</text>
<text x="729.58" y="250.40" font-size="8.8" fill="#333333" font-weight="bold" text-anchor="middle" textLength="15.76" lengthAdjust="spacingAndGlyphs">35,1</text>
<rect x="681.90" y="172.10" width="1.85" height="85.00" fill="#fff"/>
<rect x="719.10" y="194.00" width="1.90" height="43.25" fill="#fff"/>
<rect x="608.75" y="312.20" width="163.75" height="72.40" fill="#afc5e6"/>
<text x="690.20" y="334.20" font-size="12.8" fill="#fff" text-anchor="middle" textLength="72.30" lengthAdjust="spacingAndGlyphs" stroke="#fff" stroke-width="0.3">Совокупные</text>
<text x="690.40" y="346.80" font-size="12.8" fill="#fff" text-anchor="middle" textLength="105.75" lengthAdjust="spacingAndGlyphs" stroke="#fff" stroke-width="0.3">ориентировочные</text>
<text x="690.20" y="360.00" font-size="12.8" fill="#fff" text-anchor="middle" textLength="46.00" lengthAdjust="spacingAndGlyphs" stroke="#fff" stroke-width="0.3">затраты</text>
<text x="691.10" y="373.20" font-size="12.8" fill="#fff" font-weight="bold" text-anchor="middle" textLength="98.25" lengthAdjust="spacingAndGlyphs" stroke="#fff" stroke-width="0.05">1442,8 млрд руб.</text>
</svg>
</body>
</html>
